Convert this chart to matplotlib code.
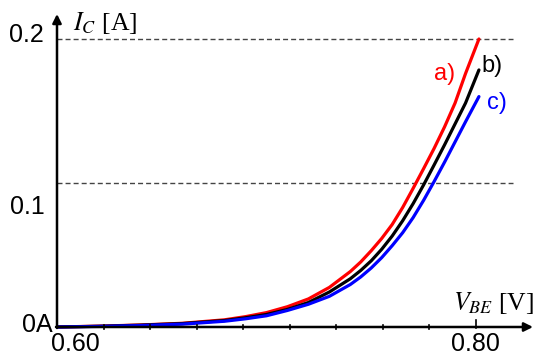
import numpy as np
import matplotlib
matplotlib.use("Agg")
import matplotlib.pyplot as plt

# Collector current vs base-emitter voltage for three transistors
v_be = [0.600, 0.620, 0.640, 0.660, 0.680, 0.690, 0.700, 0.710, 0.720, 0.730,
        0.740, 0.745, 0.750, 0.755, 0.760, 0.765, 0.770, 0.775, 0.780, 0.785,
        0.790, 0.795, 0.8014]
ic_a = [0.0, 0.0006, 0.0014, 0.0026, 0.0050, 0.0072, 0.0100, 0.0141, 0.0195, 0.0275,
        0.0385, 0.0452, 0.0530, 0.0615, 0.0712, 0.0830, 0.0963, 0.1100, 0.1240, 0.1390,
        0.1555, 0.1760, 0.2000]
ic_b = [0.0, 0.0005, 0.0013, 0.0024, 0.0045, 0.0064, 0.0087, 0.0122, 0.0170, 0.0243,
        0.0335, 0.0393, 0.0460, 0.0540, 0.0632, 0.0738, 0.0857, 0.0987, 0.1125, 0.1265,
        0.1410, 0.1555, 0.1785]
ic_c = [0.0, 0.0004, 0.0010, 0.0020, 0.0040, 0.0057, 0.0078, 0.0115, 0.0158, 0.0213,
        0.0295, 0.0348, 0.0410, 0.0482, 0.0565, 0.0655, 0.0760, 0.0880, 0.1010, 0.1145,
        0.1285, 0.1425, 0.1600]
curve_labels = ["a)", "b)", "c)"]
curve_colors = ["#ff0000", "#000000", "#0000ff"]

y_ticks = [0.0, 0.1, 0.2]
y_tick_labels = ["0A", "0.1", "0.2"]
x_tick_labels = {0.60: "0.60", 0.80: "0.80"}

plt.rcParams["mathtext.fontset"] = "stix"

fig = plt.figure(figsize=(5.33, 3.6), dpi=100)
ax = fig.add_axes([0, 0, 1, 1])
ax.set_axis_off()

# data units per pixel
px_x = 0.2 / 419
px_y = 0.2 / 288
ax.set_xlim(0.60 - 57 * px_x, 0.60 + 476 * px_x)
ax.set_ylim(-33 * px_y, 327 * px_y)

# dashed grid lines at 0.1 and 0.2
x_end = 0.60 + 456 * px_x
for yv in y_ticks[1:]:
    ax.plot([0.60, x_end], [yv, yv], color="#444444", lw=1.0,
            dashes=(3.6, 2.2), zorder=1)

# curves
for ic, col in zip([ic_a, ic_b, ic_c], curve_colors):
    ax.plot(v_be, ic, color=col, lw=2.3, solid_capstyle="round",
            solid_joinstyle="round", zorder=3)

# axes with arrow heads
arrow = dict(arrowstyle="-|>", lw=1.8, color="black",
             mutation_scale=13, shrinkA=0, shrinkB=0)
ax.annotate("", xy=(0.60 + 476 * px_x, 0), xytext=(0.60 - 1 * px_x, 0),
            arrowprops=arrow, zorder=4)
ax.annotate("", xy=(0.60, 313 * px_y), xytext=(0.60, -1 * px_y),
            arrowprops=arrow, zorder=4)

# x ticks
step = 0.2 / 9
for k in range(1, 10):
    xv = 0.60 + k * step
    if k == 9:
        ax.plot([xv, xv], [-1 * px_y, 7 * px_y], color="black", lw=1.2, zorder=4)
    else:
        ax.plot([xv, xv], [-2 * px_y, 2 * px_y], color="black", lw=1.2, zorder=4)

font = dict(family="Liberation Sans", size=18, color="black")

# y tick labels
ax.text(0.60 - 4 * px_x, 0.0 + 2 * px_y, "0A", ha="right", va="center", **font)
ax.text(0.60 - 12 * px_x, 0.1 - 24 * px_y, "0.1", ha="right", va="center", **font)
ax.text(0.60 - 13 * px_x, 0.2 + 4 * px_y, "0.2", ha="right", va="center", **font)

# x tick labels
ax.text(0.60 + 18 * px_x, -17 * px_y, x_tick_labels[0.60], ha="center", va="center", **font)
ax.text(0.80 - 1 * px_x, -17 * px_y, x_tick_labels[0.80], ha="center", va="center", **font)

# axis titles
serif = dict(family="Liberation Serif", size=18.5, color="black")
ax.text(0.60 + 16 * px_x, 297 * px_y, r"$I_C$ [A]", ha="left", va="baseline", **serif)
ax.text(0.80 - 23 * px_x, 17 * px_y, r"$V_{BE}$ [V]", ha="left", va="baseline", **serif)

# curve labels
label_pos = [(445, 74), (492, 66), (497, 103)]
for lab, col, (px, py) in zip(curve_labels, curve_colors, label_pos):
    ax.text(0.60 + (px - 57) * px_x, (327 - py) * px_y, lab, color=col,
            ha="center", va="center", family="Liberation Sans", size=17)

fig.savefig("out.png", dpi=100)
